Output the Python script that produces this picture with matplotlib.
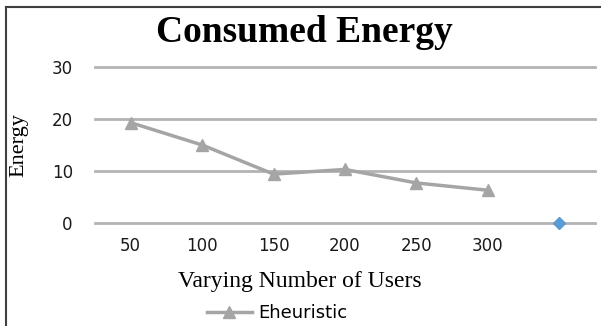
import numpy as np
import matplotlib.pyplot as plt
from matplotlib.lines import Line2D

# --- Datos ---
users = ["50", "100", "150", "200", "250", "300", ""]
eheuristic = [19.3, 15.0, 9.4, 10.3, 7.7, 6.3]
extra_series = [0.0]          # punto suelto en la ultima categoria
extra_pos = [6]
yticks = [0, 10, 20, 30]

W, H = 601, 326
fig = plt.figure(figsize=(W / 100, H / 100), dpi=100)
ax = fig.add_axes([95 / W, (H - 223) / H, 500 / W, 156 / H])

# Lineas de cuadricula (sin recorte para que la de 0 salga entera)
for v in yticks:
    ax.axhline(v, color="#b3b3b3", lw=2, zorder=0, clip_on=False)

x = np.arange(len(eheuristic))
ax.plot(x, eheuristic, color="#a5a5a5", lw=2.5, marker="^", markersize=9,
        markeredgecolor="#a5a5a5", label="Eheuristic", zorder=3)
ax.plot(extra_pos, extra_series, color="#5b9bd5", marker="D", markersize=6,
        lw=0, label="_nolegend_", clip_on=False, zorder=4)

ax.set_xlim(-0.5, len(users) - 0.5)
ax.set_ylim(0, 30)
ax.set_yticks(yticks)
ax.set_xticks(np.arange(len(users)))
ax.set_xticklabels(users)
for s in ax.spines.values():
    s.set_visible(False)
ax.tick_params(length=0, labelsize=12)
ax.tick_params(axis="x", pad=10)
ax.tick_params(axis="y", pad=16)
for t in ax.get_xticklabels() + ax.get_yticklabels():
    t.set_family("DejaVu Sans")
    t.set_color("#1a1a1a")

# Textos
fig.text(304 / W, 1 - 33 / H, "Consumed Energy", family="Liberation Serif",
         weight="bold", fontsize=27, ha="center", va="center")
fig.text(300 / W, 1 - 282 / H, "Varying Number of Users",
         family="Liberation Serif", fontsize=17, ha="center", va="center")
fig.text(19 / W, 1 - 145 / H, "Energy", family="Liberation Serif",
         fontsize=16, rotation=90, ha="center", va="center")

leg = fig.legend(loc="center", bbox_to_anchor=(277 / W, 1 - 313 / H),
                 frameon=False, prop={"family": "DejaVu Sans", "size": 13},
                 handlelength=2.5, handletextpad=0.35, borderpad=0)

# Marco exterior
fig.add_artist(Line2D([6 / W, 6 / W], [0, 1 - 7 / H], color="#404040", lw=1.5))
fig.add_artist(Line2D([6 / W, 1], [1 - 7 / H, 1 - 7 / H], color="#404040", lw=1.5))

fig.savefig("out.png", dpi=100)
